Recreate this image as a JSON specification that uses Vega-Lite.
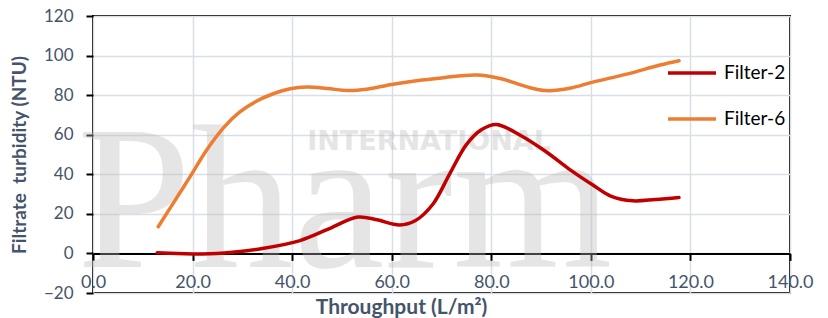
{
  "$schema": "https://vega.github.io/schema/vega-lite/v6.json",
  "width": 697,
  "height": 277,
  "autosize": {"type": "none"},
  "padding": {"left": 93, "top": 16, "right": 38, "bottom": 25},
  "background": "white",
  "config": {
    "view": {"stroke": "#000000", "strokeWidth": 2},
    "font": "Lato"
  },
  "encoding": {
    "x": {
      "field": "x", "type": "quantitative",
      "scale": {"domain": [0, 140], "nice": false, "zero": false},
      "axis": {
        "values": [0, 20, 40, 60, 80, 100, 120, 140],
        "format": ".1f",
        "offset": -39.6,
        "domainColor": "#000000", "domainWidth": 2,
        "tickColor": "#000000", "tickWidth": 2, "tickSize": 7,
        "labelFont": "Lato", "labelFontSize": 18, "labelColor": "#44546a",
        "labelBaseline": "middle", "labelPadding": 22,
        "labelFlush": false, "labelOverlap": false,
        "grid": true, "gridColor": "#d9dee7", "gridWidth": 1.5,
        "title": "Throughput (L/m²)",
        "titleFont": "Lato", "titleFontSize": 21, "titleFontWeight": "bold", "titleColor": "#44546a",
        "titleX": 308, "titleY": 53.6, "titleBaseline": "middle", "titleAlign": "center", "titleAnchor": null
      }
    },
    "y": {
      "field": "y", "type": "quantitative",
      "scale": {"domain": [-20, 120], "nice": false, "zero": false},
      "axis": {
        "values": [-20, 0, 20, 40, 60, 80, 100, 120],
        "domain": false,
        "tickColor": "#000000", "tickWidth": 2, "tickSize": 7,
        "labelFont": "Lato", "labelFontSize": 17, "labelColor": "#44546a",
        "labelPadding": 13, "labelFlush": false, "labelOverlap": false,
        "grid": true, "gridColor": "#d9dee7", "gridWidth": 1.5,
        "title": "Filtrate\u00a0 turbidity (NTU)",
        "titleFont": "Lato", "titleFontSize": 19, "titleFontWeight": "bold", "titleColor": "#44546a",
        "titleX": -74, "titleY": 138.5, "titleAngle": -90, "titleBaseline": "middle", "titleAlign": "center"
      }
    }
  },
  "layer": [
    {
      "data": {"values": [{"wm": "Pharm", "x": -3.2, "y": -6.9}]},
      "mark": {"type": "text", "font": "Liberation Serif", "fontSize": 205, "fill": "#b8b8b8", "opacity": 0.36, "align": "left", "baseline": "alphabetic"},
      "encoding": {
        "text": {"field": "wm"}
      }
    },
    {
      "data": {"values": [{"wm": "INTERNATIONAL", "x": 67.5, "y": 52.2}]},
      "mark": {"type": "text", "font": "DejaVu Sans", "fontWeight": "bold", "fontSize": 27, "fill": "#b8b8b8", "opacity": 0.36, "align": "center", "baseline": "alphabetic"},
      "encoding": {
        "text": {"field": "wm"}
      }
    },
    {
      "data": {"values": [
        {"s": "Filter-2", "x": 12.9, "y": 0.3},
        {"s": "Filter-2", "x": 17, "y": 0.0},
        {"s": "Filter-2", "x": 22, "y": -0.3},
        {"s": "Filter-2", "x": 28, "y": 0.6},
        {"s": "Filter-2", "x": 34, "y": 2.5},
        {"s": "Filter-2", "x": 41.6, "y": 6.5},
        {"s": "Filter-2", "x": 47, "y": 12},
        {"s": "Filter-2", "x": 53.2, "y": 18.4},
        {"s": "Filter-2", "x": 57, "y": 17},
        {"s": "Filter-2", "x": 61.6, "y": 14.4},
        {"s": "Filter-2", "x": 64.7, "y": 16.5},
        {"s": "Filter-2", "x": 68.3, "y": 25},
        {"s": "Filter-2", "x": 71.7, "y": 40.5},
        {"s": "Filter-2", "x": 75, "y": 55},
        {"s": "Filter-2", "x": 78, "y": 62.5},
        {"s": "Filter-2", "x": 81, "y": 65.2},
        {"s": "Filter-2", "x": 86, "y": 59.5},
        {"s": "Filter-2", "x": 91, "y": 51.4},
        {"s": "Filter-2", "x": 96, "y": 42},
        {"s": "Filter-2", "x": 100.4, "y": 34.6},
        {"s": "Filter-2", "x": 104, "y": 29},
        {"s": "Filter-2", "x": 108.4, "y": 26.6},
        {"s": "Filter-2", "x": 113, "y": 27.3},
        {"s": "Filter-2", "x": 117.7, "y": 28.3},
        {"s": "Filter-6", "x": 13.1, "y": 13.5},
        {"s": "Filter-6", "x": 16.1, "y": 25.3},
        {"s": "Filter-6", "x": 19.5, "y": 38.8},
        {"s": "Filter-6", "x": 22.8, "y": 52.2},
        {"s": "Filter-6", "x": 26.2, "y": 63.5},
        {"s": "Filter-6", "x": 29.5, "y": 71.5},
        {"s": "Filter-6", "x": 32.9, "y": 77},
        {"s": "Filter-6", "x": 36.2, "y": 80.7},
        {"s": "Filter-6", "x": 39.6, "y": 83.2},
        {"s": "Filter-6", "x": 42.9, "y": 84.1},
        {"s": "Filter-6", "x": 47, "y": 83.4},
        {"s": "Filter-6", "x": 51.2, "y": 82.3},
        {"s": "Filter-6", "x": 55, "y": 83},
        {"s": "Filter-6", "x": 60, "y": 85.4},
        {"s": "Filter-6", "x": 65, "y": 87.3},
        {"s": "Filter-6", "x": 70, "y": 88.7},
        {"s": "Filter-6", "x": 77, "y": 90.2},
        {"s": "Filter-6", "x": 82, "y": 88.3},
        {"s": "Filter-6", "x": 87, "y": 84.3},
        {"s": "Filter-6", "x": 91, "y": 82.3},
        {"s": "Filter-6", "x": 96, "y": 83.6},
        {"s": "Filter-6", "x": 100.4, "y": 86.6},
        {"s": "Filter-6", "x": 107.2, "y": 90.6},
        {"s": "Filter-6", "x": 113.9, "y": 95.2},
        {"s": "Filter-6", "x": 117.7, "y": 97.4}
      ]},
      "mark": {"type": "line", "interpolate": "catmull-rom", "strokeWidth": 3.5, "strokeCap": "round"},
      "encoding": {
        "color": {
          "field": "s", "type": "nominal",
          "scale": {"domain": ["Filter-2", "Filter-6"], "range": ["#c00000", "#ed7d31"]},
          "legend": {
            "title": null,
            "orient": "none",
            "legendX": 573,
            "legendY": 47,
            "symbolType": "stroke",
            "symbolSize": 2304,
            "symbolStrokeWidth": 3.5,
            "clipHeight": 20,
            "rowPadding": 26,
            "labelOffset": 6,
            "labelFont": "Lato",
            "labelFontSize": 19,
            "labelColor": "#000000"
          }
        }
      }
    }
  ]
}
